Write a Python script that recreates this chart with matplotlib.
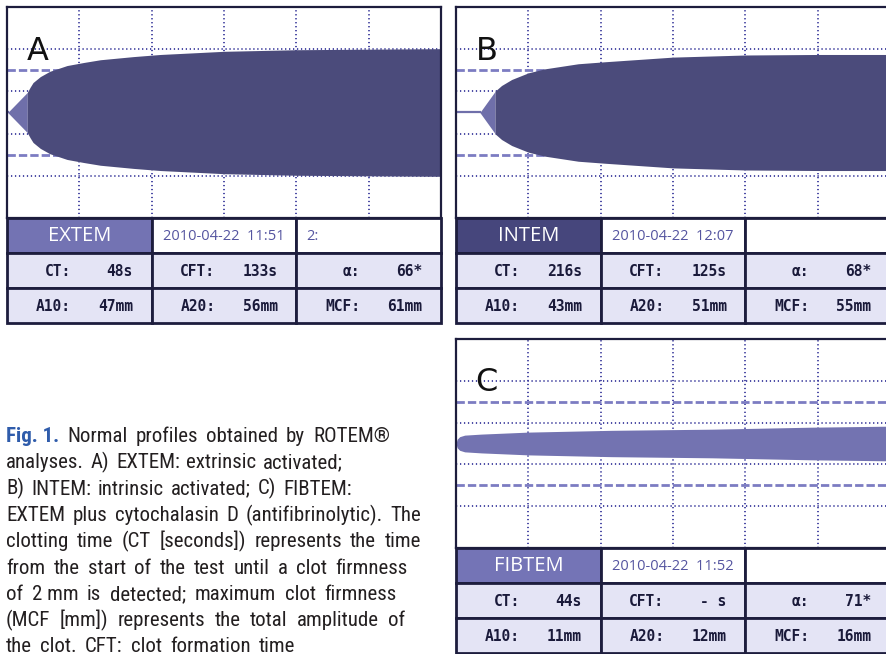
import numpy as np
import matplotlib.pyplot as plt
import matplotlib.font_manager as fm
from matplotlib.patches import Rectangle

W, H = 886, 654

# traces: time (min) vs half amplitude (mm)
# light part runs from CT to CT+CFT
a_light_t = [0.1, 2.8]
a_light_amp = [0, 19]
a_t = [2.8, 3.2, 3.6, 4.6, 5.9, 8.3, 10.6, 12.9, 17.5, 21.2, 30, 40, 60]
a_amp = [19, 24, 28.4, 34, 39, 44.5, 47.4, 50, 53, 55, 58, 59.5, 60.5]

b_base_t = [0, 3.3]
b_light_t = [3.3, 5.4]
b_light_amp = [0, 20]
b_t = [5.4, 6.3, 7.7, 10, 12.3, 16.9, 20.6, 30, 40, 50, 60]
b_amp = [20.2, 25.6, 31.3, 37.6, 41.4, 46.2, 48.1, 52.5, 54.5, 55, 55]

c_t = [0, 0.15, 0.5, 1.2, 3.5, 10, 21.5, 35.4, 49, 60]
c_amp = [0, 4, 6.5, 8, 9, 10.9, 12.6, 13.7, 15.6, 16.6]

grid_t = [10, 20, 30, 40, 50]
dotted_amp = [-60, -20, 20, 60]
dashed_amp = [-40, 40]

# result tables
letters = ["A", "B", "C"]
tests = ["EXTEM", "INTEM", "FIBTEM"]
dates = ["2010-04-22  11:51", "2010-04-22  12:07", "2010-04-22  11:52"]
extra = ["2:", "", ""]
ct = ["48s", "216s", "44s"]
cft = ["133s", "125s", "- s"]
alpha = ["66*", "68*", "71*"]
a10 = ["47mm", "43mm", "11mm"]
a20 = ["56mm", "51mm", "12mm"]
mcf = ["61mm", "55mm", "16mm"]

cap_lines = [
    ["Fig. 1.", "Normal", "profiles", "obtained", "by", "ROTEM®"],
    "analyses. A) EXTEM: extrinsic activated;".split(),
    "B) INTEM: intrinsic activated; C) FIBTEM:".split(),
    "EXTEM plus cytochalasin D (antifibrinolytic). The".split(),
    "clotting time (CT [seconds]) represents the time".split(),
    "from the start of the test until a clot firmness".split(),
    ["of", "2 mm", "is", "detected;", "maximum", "clot", "firmness"],
    "(MCF [mm]) represents the total amplitude of".split(),
    "the clot. CFT: clot formation time".split(),
]
cap_right = [390, 343, 352, 421, 421, 408, 397, 405, 295]

DARK = "#4b4b7b"
LIGHT = "#6f6faa"
CFILL = "#7373b1"
LINE = "#1d1d3d"
CELL = "#e4e4f5"
HEAD = ["#7373b3", "#46467c", "#7474b6"]
GRID = "#3e3e9e"

avail = {f.name for f in fm.fontManager.ttflist}
cap_font = next((f for f in ["Roboto Condensed", "Liberation Sans Narrow", "Lato"] if f in avail), "DejaVu Sans")

fig = plt.figure(figsize=(W / 100, H / 100), dpi=100)
fig.patch.set_facecolor("white")


def px_axes(x0, y0, x1, y1):
    return fig.add_axes([x0 / W, 1 - y1 / H, (x1 - x0) / W, (y1 - y0) / H])


def panel(i, x0, y0, x1, y_tab, y1, traces, base=None):
    ax = px_axes(x0, y0, x1, y_tab)
    ax.set_xlim(0, 60)
    ax.set_ylim(-100, 100)
    ax.set_xticks([])
    ax.set_yticks([])
    for s in ax.spines.values():
        s.set_color(LINE)
        s.set_linewidth(1.6)
    for t in grid_t:
        ax.axvline(t, color=GRID, lw=1.3, ls=(0, (0.7, 1.5)), zorder=1)
    for a in dotted_amp:
        ax.axhline(a, color=GRID, lw=1.3, ls=(0, (0.7, 1.5)), zorder=1)
    for a in dashed_amp:
        ax.axhline(a, color="#7c7cc2", lw=2.0, ls=(0, (3.0, 1.1)), zorder=1)
    if base is not None:
        ax.plot(base, [0, 0], color=LIGHT, lw=1.6, zorder=2)
    for t, amp, col in traces:
        amp = np.array(amp)
        ax.fill_between(t, -amp, amp, color=col, lw=0, zorder=2)
    ax.text(0.045, 0.75, letters[i], transform=ax.transAxes, fontsize=23,
            family="DejaVu Sans", color="#111111", va="baseline", zorder=3)

    tb = px_axes(x0, y_tab, x1, y1)
    tb.set_xlim(0, 3)
    tb.set_ylim(3, 0)
    tb.axis("off")
    for r in range(3):
        for c in range(3):
            if r == 0:
                fc = HEAD[i] if c == 0 else "white"
            else:
                fc = CELL
            tb.add_patch(Rectangle((c, r), 1, 1, facecolor=fc, edgecolor=LINE,
                                   lw=2, clip_on=False))
    tb.text(0.5, 0.52, tests[i], ha="center", va="center", color="white",
            fontsize=14.5, family="Open Sans")
    tb.text(1.076, 0.52, dates[i], ha="left", va="center", color="#5555a0",
            fontsize=10.5, family="Open Sans")
    tb.text(2.07, 0.52, extra[i], ha="left", va="center", color="#5555a0",
            fontsize=10.5, family="Open Sans")
    rows = [[("CT:", ct[i]), ("CFT:", cft[i]), ("\u03b1:", alpha[i])],
            [("A10:", a10[i]), ("A20:", a20[i]), ("MCF:", mcf[i])]]
    for r, row in enumerate(rows, start=1):
        for c, (lab, val) in enumerate(row):
            tb.text(c + 0.44, r + 0.52, lab, ha="right", va="center", fontsize=10.5,
                    family="DejaVu Sans Mono", weight="bold", color="#1a1a3a")
            tb.text(c + 0.87, r + 0.52, val, ha="right", va="center", fontsize=10.5,
                    family="DejaVu Sans Mono", weight="bold", color="#1a1a3a")


panel(0, 7, 7, 441, 218, 323,
      [(a_light_t, a_light_amp, LIGHT), (a_t, a_amp, DARK)], base=[0, a_light_t[0]])
panel(1, 456, 7, 890, 218, 323,
      [(b_light_t, b_light_amp, LIGHT), (b_t, b_amp, DARK)], base=b_base_t)
panel(2, 456, 339, 890, 548, 653, [(c_t, c_amp, CFILL)])

# caption, words spread so each line ends where it does in the print
renderer = fig.canvas.get_renderer()


def word_w(s, fs, bold=False):
    t = fig.text(0, 0, s, fontsize=fs, family=cap_font, weight="bold" if bold else "normal")
    w = t.get_window_extent(renderer).width
    t.remove()
    return w


base_fs = 12
sp = word_w("a a", base_fs) - word_w("aa", base_fs)
ratios = []
for k, words in enumerate(cap_lines):
    nat = sum(word_w(w, base_fs, bold=(k == 0 and j == 0)) for j, w in enumerate(words))
    nat += sp * (len(words) - 1)
    ratios.append((cap_right[k] - 6) / nat)
fs = min(15, base_fs * min(ratios))

x_left = 6
for k, words in enumerate(cap_lines):
    y = 442 + 26.3 * k
    ws = [word_w(w, fs, bold=(k == 0 and j == 0)) for j, w in enumerate(words)]
    gap = (cap_right[k] - x_left - sum(ws)) / (len(words) - 1)
    x = x_left
    for j, w in enumerate(words):
        first = k == 0 and j == 0
        fig.text(x / W, 1 - y / H, w, fontsize=fs, family=cap_font,
                 weight="bold" if first else "normal",
                 color="#2f5cab" if first else "#231f20", va="baseline")
        x += ws[j] + gap

fig.savefig("out.png", dpi=100, facecolor="white")
